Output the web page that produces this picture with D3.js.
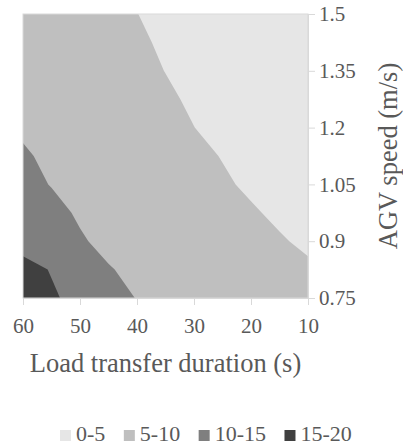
<!DOCTYPE html>
<html><head><meta charset="utf-8">
<script src="https://cdn.jsdelivr.net/npm/d3@7"></script>
<style>
body{margin:0;background:#fff;}
svg text{font-family:"Liberation Serif",serif !important;fill:#595959;}
</style>
</head><body><svg id="c" width="403" height="448"></svg>
<script>
// Grid: columns = load transfer duration (s), rows = AGV speed (m/s)
const durations = [60,55,50,45,40,35,30,25,20,15,10];
const speeds = [1.5,1.425,1.35,1.275,1.2,1.125,1.05,0.975,0.9,0.825,0.75];
const row150 = [7.63,6.98,6.33,5.68,5.03,4.38,3.73,3.08,2.43,1.78,1.13];
const row1425 = [8.05,7.38,6.70,6.03,5.35,4.68,4.00,3.33,2.65,1.98,1.30];
const row135 = [8.46,7.76,7.06,6.36,5.66,4.96,4.26,3.56,2.86,2.16,1.46];
const row1275 = [9.05,8.28,7.55,6.83,6.10,5.38,4.65,3.93,3.20,2.48,1.75];
const row120 = [9.65,8.77,8.02,7.27,6.52,5.77,5.02,4.27,3.52,2.77,2.02];
const row1125 = [10.30,9.50,8.69,7.93,7.17,6.41,5.65,4.89,4.13,3.37,2.61];
const row105 = [10.70,9.91,9.15,8.39,7.63,6.87,6.11,5.35,4.59,3.83,3.07];
const row0975 = [11.80,10.68,9.71,8.97,8.23,7.49,6.76,6.02,5.28,4.54,3.81];
const row090 = [13.20,11.72,10.24,9.42,8.72,8.03,7.33,6.63,5.93,5.24,4.54];
const row0825 = [16.60,14.75,12.30,10.15,9.46,8.79,8.11,7.44,6.76,6.09,5.41];
const row075 = [17.48,15.57,13.66,11.76,9.85,9.30,8.65,8.00,7.35,6.70,6.05];
const gridRows = [row150,row1425,row135,row1275,row120,row1125,row105,row0975,row090,row0825,row075];

const bandLabels = ["0-5","5-10","10-15","15-20"];
const bandThresholds = [0,5,10,15];
const bandColors = ["#e6e6e6","#bfbfbf","#7f7f7f","#404040"];
const xTickValues = [60,50,40,30,20,10];
const yTickValues = [0.75,0.9,1.05,1.2,1.35,1.5];

const svg = d3.select("#c");
const L = 23, R = 308, T = 14, B = 298;
const x = d3.scaleLinear().domain([60,10]).range([L,R]);
const y = d3.scaleLinear().domain([0.75,1.5]).range([B,T]);

const nx = durations.length, ny = speeds.length;
const gx = d3.scaleLinear().domain([0.5, nx-0.5]).range([x(durations[0]), x(durations[nx-1])]);
const gy = d3.scaleLinear().domain([0.5, ny-0.5]).range([y(speeds[0]), y(speeds[ny-1])]);

svg.append("defs").append("clipPath").attr("id","clip")
  .append("rect").attr("x",L).attr("y",T).attr("width",R-L).attr("height",B-T);

const contours = d3.contours().size([nx,ny]).thresholds(bandThresholds)(gridRows.flat());
const proj = d3.geoTransform({point(a,b){ this.stream.point(gx(a), gy(b)); }});
const path = d3.geoPath(proj);

svg.append("g").attr("clip-path","url(#clip)")
  .selectAll("path").data(contours).join("path")
  .attr("d", path)
  .attr("fill", (d,i) => bandColors[i])
  .attr("stroke","none");

// plot border
svg.append("rect").attr("x",L).attr("y",T).attr("width",R-L).attr("height",B-T)
  .attr("fill","none").attr("stroke","#d9d9d9").attr("stroke-width",1);

const xAxis = svg.append("g").attr("transform",`translate(0,${B})`)
  .call(d3.axisBottom(x).tickValues(xTickValues).tickSize(7).tickSizeOuter(0).tickPadding(13).tickFormat(d=>String(d)));
const yAxis = svg.append("g").attr("transform",`translate(${R},0)`)
  .call(d3.axisRight(y).tickValues(yTickValues).tickSize(7).tickSizeOuter(0).tickPadding(4).tickFormat(d=>String(d)));
[xAxis,yAxis].forEach(g=>{
  g.attr("font-family",null);
  g.select(".domain").attr("stroke","#d9d9d9");
  g.selectAll(".tick line").attr("stroke","#d9d9d9");
  g.selectAll("text").style("font-family","Liberation Serif, serif").attr("font-size",21).attr("fill","#595959");
});

svg.append("text").attr("x",(L+R)/2).attr("y",372).attr("text-anchor","middle")
  .attr("font-size",26.5).text("Load transfer duration (s)");
svg.append("text").attr("transform",`translate(397,${(T+B)/2}) rotate(-90)`).attr("text-anchor","middle")
  .attr("font-size",26.5).text("AGV speed (m/s)");

// legend
const lg = svg.append("g");
let lx = 60;
bandLabels.forEach((lab,i)=>{
  lg.append("rect").attr("x",lx).attr("y",430).attr("width",11).attr("height",11).attr("fill",bandColors[i]);
  const t = lg.append("text").attr("x",lx+16).attr("y",441).attr("font-size",22).text(lab);
  lx = lx + 16 + t.node().getComputedTextLength() + 18.5;
});
</script>
</body></html>
